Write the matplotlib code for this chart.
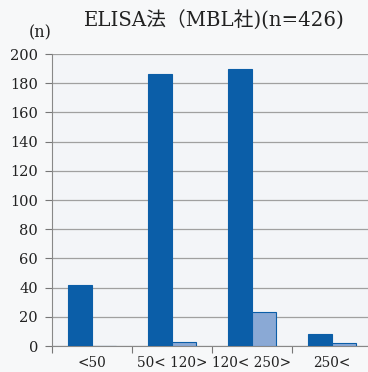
import matplotlib
matplotlib.use("Agg")
import matplotlib.pyplot as plt
import numpy as np

# Antibody titre ranges and patient counts per range
categories = ["<50", "50< 120>", "120< 250>", "250<"]
counts_all = [42, 186, 190, 8]
counts_sub = [0, 3, 23, 2]
yticks = list(range(0, 201, 20))

SERIF = ["DejaVu Serif", "Noto Sans CJK JP"]
DARK = "#0b5ea8"
LIGHT = "#8aa9d5"

fig = plt.figure(figsize=(3.68, 3.72), dpi=100, facecolor="#f7f8f9")
# axes run past the right edge of the figure
ax = fig.add_axes([52 / 368, 26 / 372, 400 / 368, 292 / 372])
ax.set_facecolor("#f3f5f8")

x = np.arange(len(categories))
w = 0.3
ax.bar(x - w / 2, counts_all, width=w, color=DARK, edgecolor=DARK, linewidth=0.8, zorder=3)
ax.bar(x + w / 2, counts_sub, width=w, color=LIGHT, edgecolor=DARK, linewidth=0.8, zorder=3)

ax.set_xlim(-0.5, 4.5)
ax.set_ylim(0, 200)
ax.set_yticks(yticks)
ax.set_yticklabels([str(v) for v in yticks], family=SERIF, fontsize=10.5, color="#222222")
ax.tick_params(axis="y", length=5, width=0.8, color="#777777", pad=5)

ax.set_xticks(x)
ax.set_xticklabels(categories, family=SERIF, fontsize=9.8, color="#222222")
ax.set_xticks(np.arange(-0.5, 5.0, 1.0), minor=True)
ax.tick_params(axis="x", which="major", length=0, pad=7)
ax.tick_params(axis="x", which="minor", length=5, width=0.8, color="#777777")

ax.grid(axis="y", color="#a0a0a0", linewidth=0.9, zorder=1)
for side in ("top", "right"):
    ax.spines[side].set_visible(False)
ax.spines["left"].set_color("#888888")
ax.spines["bottom"].set_color("#888888")

fig.text(84 / 368, 1 - 21 / 372, "ELISA法（MBL社)(n=426)", family=SERIF,
         fontsize=14.2, color="#222222", va="center", ha="left")
fig.text(40 / 368, 1 - 33 / 372, "(n)", family=SERIF, fontsize=11.5,
         color="#222222", va="center", ha="center")

fig.savefig("out.png", dpi=100, facecolor=fig.get_facecolor())
